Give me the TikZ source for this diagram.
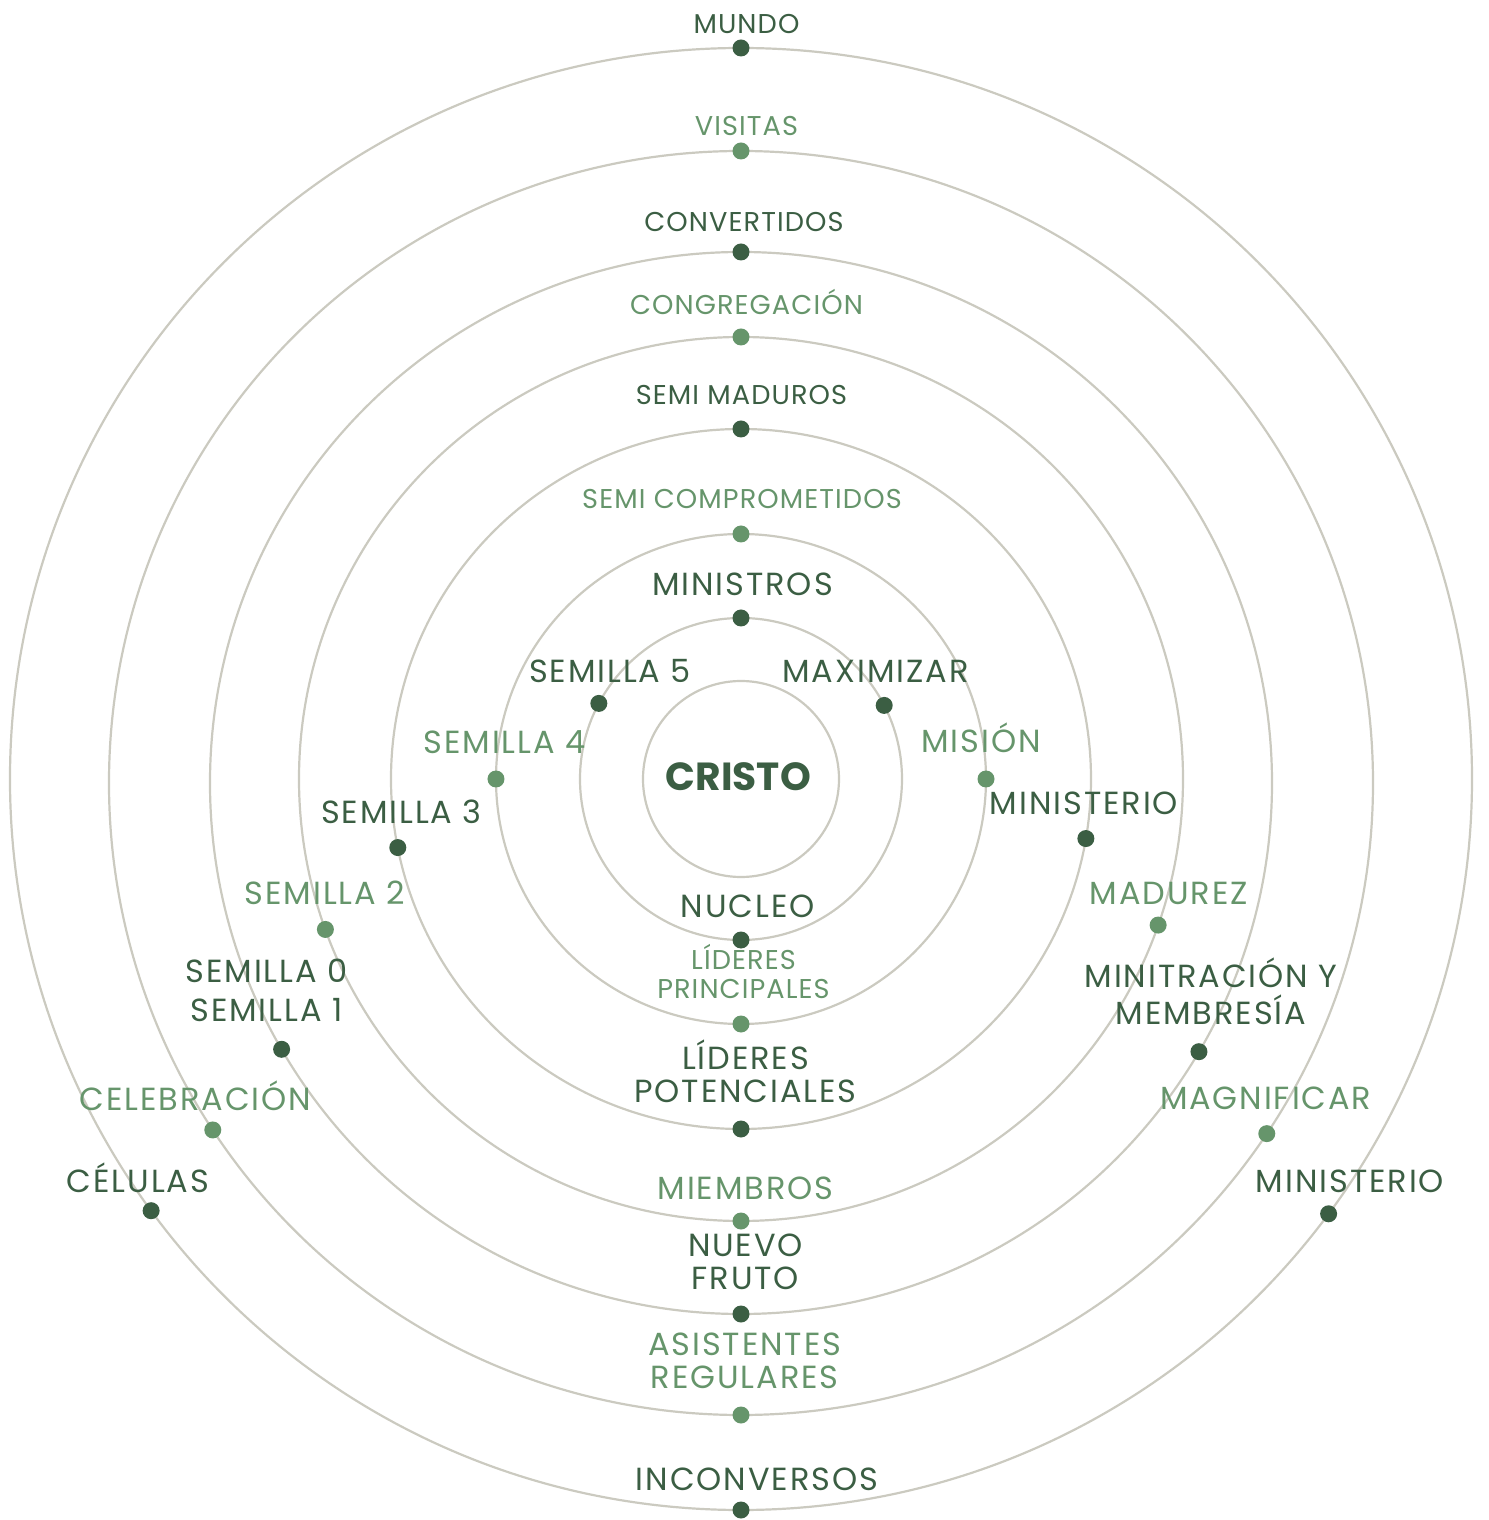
\documentclass[tikz,border=0pt]{standalone}
\usepackage{fontspec}
\setmainfont{Poppins}
\definecolor{darkgreen}{HTML}{3B5E43}
\definecolor{lightgreen}{HTML}{66956B}
\definecolor{ringgray}{HTML}{CBCAC0}

\begin{document}
\begin{tikzpicture}[x=0.5pt,y=0.5pt,
  ring/.style={draw=ringgray, line width=1.1pt},
  dk/.style={circle, fill=darkgreen, inner sep=0pt, minimum size=8.5pt},
  lt/.style={circle, fill=lightgreen, inner sep=0pt, minimum size=8.5pt},
  big/.style={font=\fontsize{16}{16.5}\selectfont\addfontfeatures{LetterSpace=6},
    inner sep=0pt, anchor=base, align=center},
  small/.style={font=\fontsize{13.6}{14.5}\selectfont\addfontfeatures{LetterSpace=4},
    inner sep=0pt, anchor=base, align=center}]
\useasboundingbox (-741,-741) rectangle (747,779);

\foreach \r in {98,161,245,350,442,731}
  \draw[ring] (0,0) circle (\r);
\foreach \r in {531,632}
  \draw[ring] (0,-4) circle (\r);

% dots on the rings
\node[dk] (mundo) at (90:731) {};
\node[lt] (visitas) at ([shift={(0,-4)}]90:632) {};
\node[dk] (convertidos) at ([shift={(0,-4)}]90:531) {};
\node[lt] (congregacion) at (90:442) {};
\node[dk] (semimaduros) at (90:350) {};
\node[lt] (semicomp) at (90:245) {};
\node[dk] (ministros) at (90:161) {};

\node[dk] (semilla5) at (152:161) {};
\node[dk] (maximizar) at (27.2:161) {};
\node[lt] (semilla4) at (180:245) {};
\node[lt] (mision) at (0:245) {};
\node[dk] (semilla3) at (191.3:350) {};
\node[dk] (ministerio) at (-9.8:350) {};
\node[lt] (semilla2) at (199.9:442) {};
\node[lt] (madurez) at (-19.3:442) {};
\node[dk] (semilla01) at ([shift={(0,-4)}]210.1:531) {};
\node[dk] (membresia) at ([shift={(0,-4)}]-30.4:531) {};
\node[lt] (celebracion) at ([shift={(0,-4)}]213.3:632) {};
\node[lt] (magnificar) at ([shift={(0,-4)}]-33.7:632) {};
\node[dk] (celulas) at (216.2:731) {};
\node[dk] (ministerio2) at (-36.5:731) {};

\node[dk] (nucleo) at (270:161) {};
\node[lt] (liderespr) at (270:245) {};
\node[dk] (liderespo) at (270:350) {};
\node[lt] (miembros) at (270:442) {};
\node[dk] (nuevofruto) at ([shift={(0,-4)}]270:531) {};
\node[lt] (asistentes) at ([shift={(0,-4)}]270:632) {};
\node[dk] (inconversos) at (270:731) {};

% labels
\node[small, text=darkgreen] (mundo-t) at (5.5,745) {MUNDO};
\node[small, text=lightgreen] (visitas-t) at (5.5,643) {VISITAS};
\node[small, text=darkgreen] (convertidos-t) at (3,547.5) {CONVERTIDOS};
\node[small, text=lightgreen] (congregacion-t) at (5.5,464) {CONGREGACIÓN};
\node[small, text=darkgreen] (semimaduros-t) at (0.5,374) {SEMI MADUROS};
\node[small, text=lightgreen] (semicomp-t) at (1,270) {SEMI COMPROMETIDOS};
\node[big, text=darkgreen] (ministros-t) at (1.5,183) {MINISTROS};

\node[big, text=darkgreen] (semilla5-t) at (-131,96) {SEMILLA 5};
\node[big, text=darkgreen] (maximizar-t) at (134.5,96) {MAXIMIZAR};
\node[big, text=lightgreen] (semilla4-t) at (-236.5,25) {SEMILLA 4};
\node[big, text=lightgreen] (mision-t) at (240,26) {MISIÓN};
\node[anchor=base, inner sep=0pt, text=darkgreen,
  font=\fontsize{19.6}{20}\selectfont\bfseries] (cristo) at (-2.7,-11.7) {CRISTO};
\node[big, text=darkgreen] (semilla3-t) at (-339.5,-45) {SEMILLA 3};
\node[big, text=darkgreen] (ministerio-t) at (343,-36) {MINISTERIO};
\node[big, text=lightgreen] (semilla2-t) at (-416,-126) {SEMILLA 2};
\node[big, text=lightgreen] (madurez-t) at (428,-126) {MADUREZ};
\node[big, text=darkgreen] (semilla01-t) at (-474.5,-242) {SEMILLA 0\\[3pt]SEMILLA 1};
\node[big, text=darkgreen] (membresia-t) at (470,-245) {MINITRACIÓN Y\\[1.85pt]MEMBRESÍA};
\node[big, text=lightgreen] (celebracion-t) at (-545.5,-331) {CELEBRACIÓN};
\node[big, text=lightgreen] (magnificar-t) at (524.7,-330.3) {MAGNIFICAR};
\node[big, text=darkgreen] (celulas-t) at (-603,-413.7) {CÉLULAS};
\node[big, text=darkgreen] (ministerio2-t) at (609,-413.7) {MINISTERIO};

\node[big, text=darkgreen] (nucleo-t) at (6.8,-138.3) {NUCLEO};
\node[small, text=lightgreen] (liderespr-t) at (2.5,-219.3) {LÍDERES\\PRINCIPALES};
\node[big, text=darkgreen] (liderespo-t) at (4.5,-323) {LÍDERES\\POTENCIALES};
\node[big, text=lightgreen] (miembros-t) at (4.5,-420) {MIEMBROS};
\node[big, text=darkgreen] (nuevofruto-t) at (4.5,-510) {NUEVO\\FRUTO};
\node[big, text=lightgreen] (asistentes-t) at (3.8,-609.3) {ASISTENTES\\REGULARES};
\node[big, text=darkgreen] (inconversos-t) at (16,-711.7) {INCONVERSOS};
\end{tikzpicture}
\end{document}
